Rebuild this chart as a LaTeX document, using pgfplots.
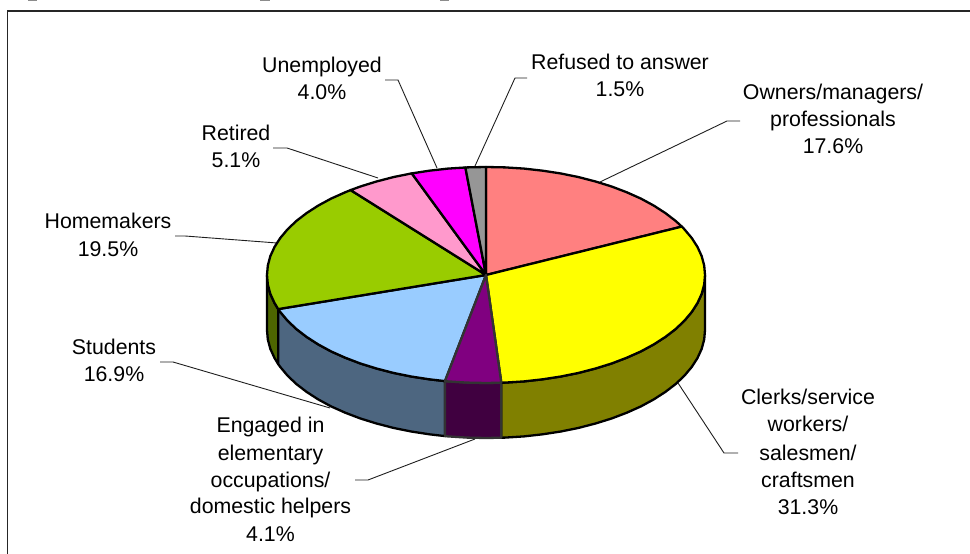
\documentclass[border=0pt]{standalone}
\usepackage{pgfplots}
\usepackage{fontspec}
\setmainfont{Liberation Sans}
\pgfplotsset{compat=1.18}
\definecolor{cOwn}{RGB}{255,128,128}
\definecolor{cCle}{RGB}{255,255,0}
\definecolor{cEng}{RGB}{128,0,128}
\definecolor{cStu}{RGB}{153,204,255}
\definecolor{cHom}{RGB}{153,204,0}
\definecolor{cRet}{RGB}{255,153,204}
\definecolor{cUne}{RGB}{255,0,255}
\definecolor{cRef}{RGB}{150,150,150}
\definecolor{wCle}{RGB}{128,128,0}
\definecolor{wEng}{RGB}{64,0,64}
\definecolor{wStu}{RGB}{77,102,128}
\definecolor{wHom}{RGB}{77,102,0}
\definecolor{eGray}{RGB}{51,51,51}
\definecolor{lead}{RGB}{30,30,30}
\newcommand{\lbl}[3]{\node[anchor=base,inner sep=0pt,text=black] at (axis cs:#1,#2) {\fontsize{21.4}{27}\selectfont #3};}
\begin{document}
\begin{tikzpicture}[x=1bp,y=1bp]
\path[use as bounding box] (0,0) rectangle (970,554);
\begin{axis}[
  at={(0,0)},anchor=south west,
  scale only axis,width=970bp,height=554bp,
  xmin=0,xmax=970,ymin=0,ymax=554,y dir=reverse,
  hide axis,clip=true]
% frame and clipped heading remnants
\addplot[black!85,line width=1.5bp] coordinates {(7.5,554)(7.5,11)(970,11)};
\addplot[black!45,fill=black!45,draw=none] coordinates {(28,0)(37,0)(37,1)(28,1)} --cycle;
\addplot[black!45,fill=black!45,draw=none] coordinates {(260,0)(270,0)(270,1)(260,1)} --cycle;
\addplot[black!45,fill=black!45,draw=none] coordinates {(440,0)(449,0)(449,1)(440,1)} --cycle;
% leader lines
\addplot[lead,line width=0.9bp] coordinates {(385,80)(398,80)(437,168)};
\addplot[lead,line width=0.9bp] coordinates {(527,78)(515,78)(475,166)};
\addplot[lead,line width=0.9bp] coordinates {(273,148)(287,148)(378,178)};
\addplot[lead,line width=0.9bp] coordinates {(175,236)(185,236)(277,243)};
\addplot[lead,line width=0.9bp] coordinates {(160,362)(173,362)(330,408)};
\addplot[lead,line width=0.9bp] coordinates {(740,121)(727,121)(600,182)};
\addplot[lead,line width=0.9bp] coordinates {(738,453)(724,453)(678,383)};
\addplot[lead,line width=0.9bp] coordinates {(355,480)(368,480)(475,439)};
% side walls
\addplot[fill=wHom,draw=black,line width=2.3bp,line join=round] coordinates {
(278.2,309.1)(274.5,303)(270.3,293.8)(267.8,284.4)(267,275)(267,330)(267.8,339.4)(270.3,348.8)(274.5,358)(278.2,364.1)} --cycle;
\addplot[fill=wStu,draw=black,line width=2.3bp,line join=round] coordinates {
(445,381.1)(429.3,379.3)(411.1,376.5)(393.4,372.9)(376.5,368.5)(360.4,363.5)(345.2,357.7)(331.1,351.4)(318.2,344.4)(306.6,336.9)(296.3,329)(287.5,320.6)(280.2,311.9)(278.2,309.1)
(278.2,364.1)(280.2,366.9)(287.5,375.6)(296.3,384)(306.6,391.9)(318.2,399.4)(331.1,406.4)(345.2,412.7)(360.4,418.5)(376.5,423.5)(393.4,427.9)(411.1,431.5)(429.3,434.3)(445,436.1)} --cycle;
\addplot[fill=wCle,draw=black,line width=2.3bp,line join=round] coordinates {
(705,275)(704.2,284.4)(701.7,293.8)(697.5,303)(691.8,311.9)(684.5,320.6)(675.7,329)(665.4,336.9)(653.8,344.4)(640.9,351.4)(626.8,357.7)(611.6,363.5)(595.5,368.5)(578.6,372.9)(560.9,376.5)(542.7,379.3)(524,381.4)(505.1,382.6)(501.3,382.7)
(501.3,437.7)(505.1,437.6)(524,436.4)(542.7,434.3)(560.9,431.5)(578.6,427.9)(595.5,423.5)(611.6,418.5)(626.8,412.7)(640.9,406.4)(653.8,399.4)(665.4,391.9)(675.7,384)(684.5,375.6)(691.8,366.9)(697.5,358)(701.7,348.8)(704.2,339.4)(705,330)} --cycle;
\addplot[fill=wEng,draw=eGray,line width=2.3bp,line join=round] coordinates {
(501.3,382.7)(486,383)(466.9,382.6)(448,381.4)(445,381.1)(445,436.1)(448,436.4)(466.9,437.6)(486,438)(501.3,437.7)} --cycle;
% top faces
\addplot[fill=cOwn,draw=black,line width=2.3bp,line join=round] coordinates {
(486,275)(486,167)(505.1,167.4)(524,168.6)(542.7,170.7)(560.9,173.5)(578.6,177.1)(595.5,181.5)(611.6,186.5)(626.8,192.3)(640.9,198.6)(653.8,205.6)(665.4,213.1)(675.7,221)(681.8,226.6)} --cycle;
\addplot[fill=cCle,draw=black,line width=2.3bp,line join=round] coordinates {
(486,275)(681.8,226.6)(684.5,229.4)(691.8,238.1)(697.5,247)(701.7,256.2)(704.2,265.6)(705,275)(704.2,284.4)(701.7,293.8)(697.5,303)(691.8,311.9)(684.5,320.6)(675.7,329)(665.4,336.9)(653.8,344.4)(640.9,351.4)(626.8,357.7)(611.6,363.5)(595.5,368.5)(578.6,372.9)(560.9,376.5)(542.7,379.3)(524,381.4)(505.1,382.6)(501.3,382.7)} --cycle;
\addplot[fill=cStu,draw=black,line width=2.3bp,line join=round] coordinates {
(486,275)(445,381.1)(429.3,379.3)(411.1,376.5)(393.4,372.9)(376.5,368.5)(360.4,363.5)(345.2,357.7)(331.1,351.4)(318.2,344.4)(306.6,336.9)(296.3,329)(287.5,320.6)(280.2,311.9)(278.2,309.1)} --cycle;
\addplot[fill=cHom,draw=black,line width=2.3bp,line join=round] coordinates {
(486,275)(278.2,309.1)(274.5,303)(270.3,293.8)(267.8,284.4)(267,275)(267.8,265.6)(270.3,256.2)(274.5,247)(280.2,238.1)(287.5,229.4)(296.3,221)(306.6,213.1)(318.2,205.6)(331.1,198.6)(345.2,192.3)(350.6,190.1)} --cycle;
\addplot[fill=cRet,draw=black,line width=2.3bp,line join=round] coordinates {
(486,275)(350.6,190.1)(360.4,186.5)(376.5,181.5)(393.4,177.1)(411.1,173.5)(411.8,173.4)} --cycle;
\addplot[fill=cUne,draw=black,line width=2.3bp,line join=round] coordinates {
(486,275)(411.8,173.4)(429.3,170.7)(448,168.6)(465.4,167.5)} --cycle;
\addplot[fill=cRef,draw=black,line width=2.3bp,line join=round] coordinates {
(486,275)(465.4,167.5)(466.9,167.4)(486,167)} --cycle;
\addplot[fill=cEng,draw=eGray,line width=2.3bp,line join=round] coordinates {
(486,275)(501.3,382.7)(486,383)(466.9,382.6)(448,381.4)(445,381.1)} --cycle;
% labels
\lbl{620}{70}{Refused to answer}
\lbl{620}{97}{1.5\%}
\lbl{322}{73}{Unemployed}
\lbl{322}{100}{4.0\%}
\lbl{236}{141}{Retired}
\lbl{236}{168}{5.1\%}
\lbl{108}{229}{Homemakers}
\lbl{108}{257}{19.5\%}
\lbl{114}{355}{Students}
\lbl{114}{382}{16.9\%}
\lbl{270.5}{433}{Engaged in}
\lbl{270.5}{460}{elementary}
\lbl{270.5}{487}{occupations/}
\lbl{270.5}{513}{domestic helpers}
\lbl{270.5}{541}{4.1\%}
\lbl{833}{100}{Owners/managers/}
\lbl{833}{127}{professionals}
\lbl{833}{154}{17.6\%}
\lbl{808}{405}{Clerks/service}
\lbl{808}{432}{workers/}
\lbl{808}{460}{salesmen/}
\lbl{808}{487}{craftsmen}
\lbl{808}{514}{31.3\%}
\end{axis}
\end{tikzpicture}
\end{document}
